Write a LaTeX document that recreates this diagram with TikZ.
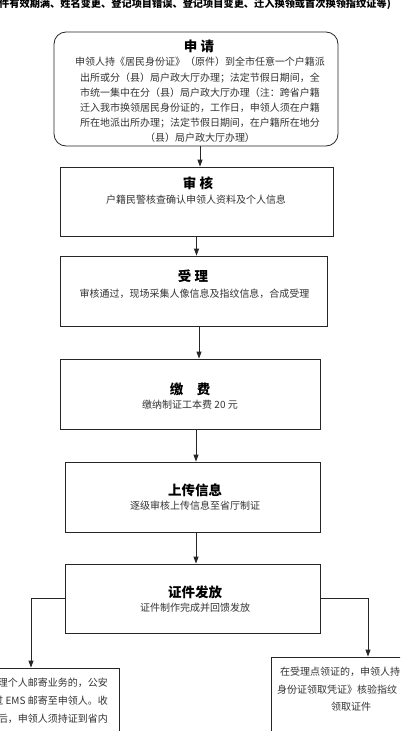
\documentclass[tikz,border=0pt]{standalone}
\usepackage{fontspec}
\setmainfont{Noto Sans CJK SC}
\usetikzlibrary{arrows.meta}
\begin{document}
\begin{tikzpicture}[x=1pt,y=-1pt,
  box/.style={draw=black!85, line width=0.8pt, minimum width=#1, inner sep=0pt},
  head/.style={font=\bfseries\fontsize{13.5}{16}\selectfont, text=black, inner sep=0pt},
  body/.style={font=\fontsize{10}{15.2}\selectfont, text=black!80, inner sep=0pt, align=center},
  small/.style={font=\fontsize{10}{12}\selectfont, text=black!80, inner sep=0pt},
  arr/.style={-{Triangle[width=5pt,length=7pt]}, line width=0.8pt, draw=black!85}]
\useasboundingbox (0,0) rectangle (400,731);
\clip (0,0) rectangle (400,731);
\fill[white] (0,0) rectangle (400,731);
% title
\node[anchor=west, inner sep=0pt, font=\bfseries\fontsize{10.2}{12}\selectfont] (title) at (-1,4) {件有效期满、姓名变更、登记项目错误、登记项目变更、迁入换领或首次换领指纹证等)};
% boxes
\node[box=284pt, minimum height=114pt, rounded corners=12pt] (b1) at (196,89) {};
\node[box=273pt, minimum height=69pt] (b2) at (196.5,201.5) {};
\node[box=267pt, minimum height=70pt] (b3) at (193.5,291) {};
\node[box=260pt, minimum height=70pt] (b4) at (190,394) {};
\node[box=255pt, minimum height=70pt] (b5) at (192.5,497) {};
\node[box=255pt, minimum height=69pt] (b6) at (192.5,598.5) {};
\node[box=129pt, minimum height=92pt] (bl) at (54.5,714) {};
\node[box=139pt, minimum height=103pt] (br) at (340.5,708.5) {};
% texts
\node[head] (h1) at (199,46) {申 请};
\node[body] (t1) at (200,100) {申领人持《居民身份证》（原件）到全市任意一个户籍派\\
出所或分（县）局户政大厅办理；法定节假日期间，全\\
市统一集中在分（县）局户政大厅办理（注：跨省户籍\\
迁入我市换领居民身份证的，工作日，申领人须在户籍\\
所在地派出所办理；法定节假日期间，在户籍所在地分\\
（县）局户政大厅办理）};
\node[head] (h2) at (198,183) {审 核};
\node[body] (t2) at (196,200) {户籍民警核查确认申领人资料及个人信息};
\node[head] (h3) at (193,276) {受 理};
\node[body] (t3) at (194.5,294) {审核通过，现场采集人像信息及指纹信息，合成受理};
\node[head] (h4) at (190,389) {缴　费};
\node[body] (t4) at (190,405) {缴纳制证工本费 20 元};
\node[head] (h5) at (195,490) {上传信息};
\node[body] (t5) at (195,506) {逐级审核上传信息至省厅制证};
\node[head] (h6) at (195,592) {证件发放};
\node[body] (t6) at (195,608) {证件制作完成并回馈发放};
\node[small, anchor=east] (l1) at (108,683) {理个人邮寄业务的，公安};
\node[small, anchor=east] (l2) at (108,701) {过 EMS 邮寄至申领人。收};
\node[small, anchor=east] (l3) at (108,719) {后，申领人须持证到省内};
\node[small, anchor=west] (r1) at (280,672) {在受理点领证的，申领人持};
\node[small, anchor=west] (r2) at (277,690) {身份证领取凭证》核验指纹};
\node[small] (r3) at (351,707) {领取证件};
% connectors
\draw[arr] ([xshift=4pt]b1.south) -- ([xshift=4pt]b1.south |- b2.north);
\draw[arr] (b2.south) -- (b2.south |- b3.north);
\draw[arr] ([xshift=5.5pt]b3.south) -- ([xshift=5.5pt]b3.south |- b4.north);
\draw[arr] ([xshift=6pt]b4.south) -- ([xshift=6pt]b4.south |- b5.north);
\draw[arr] ([xshift=3.5pt]b5.south) -- ([xshift=3.5pt]b5.south |- b6.north);
\draw[arr] (b6.west) -| ([xshift=-23.5pt]bl.north);
\draw[arr] (b6.east) -| ([xshift=27.5pt]br.north);
\end{tikzpicture}
\end{document}
